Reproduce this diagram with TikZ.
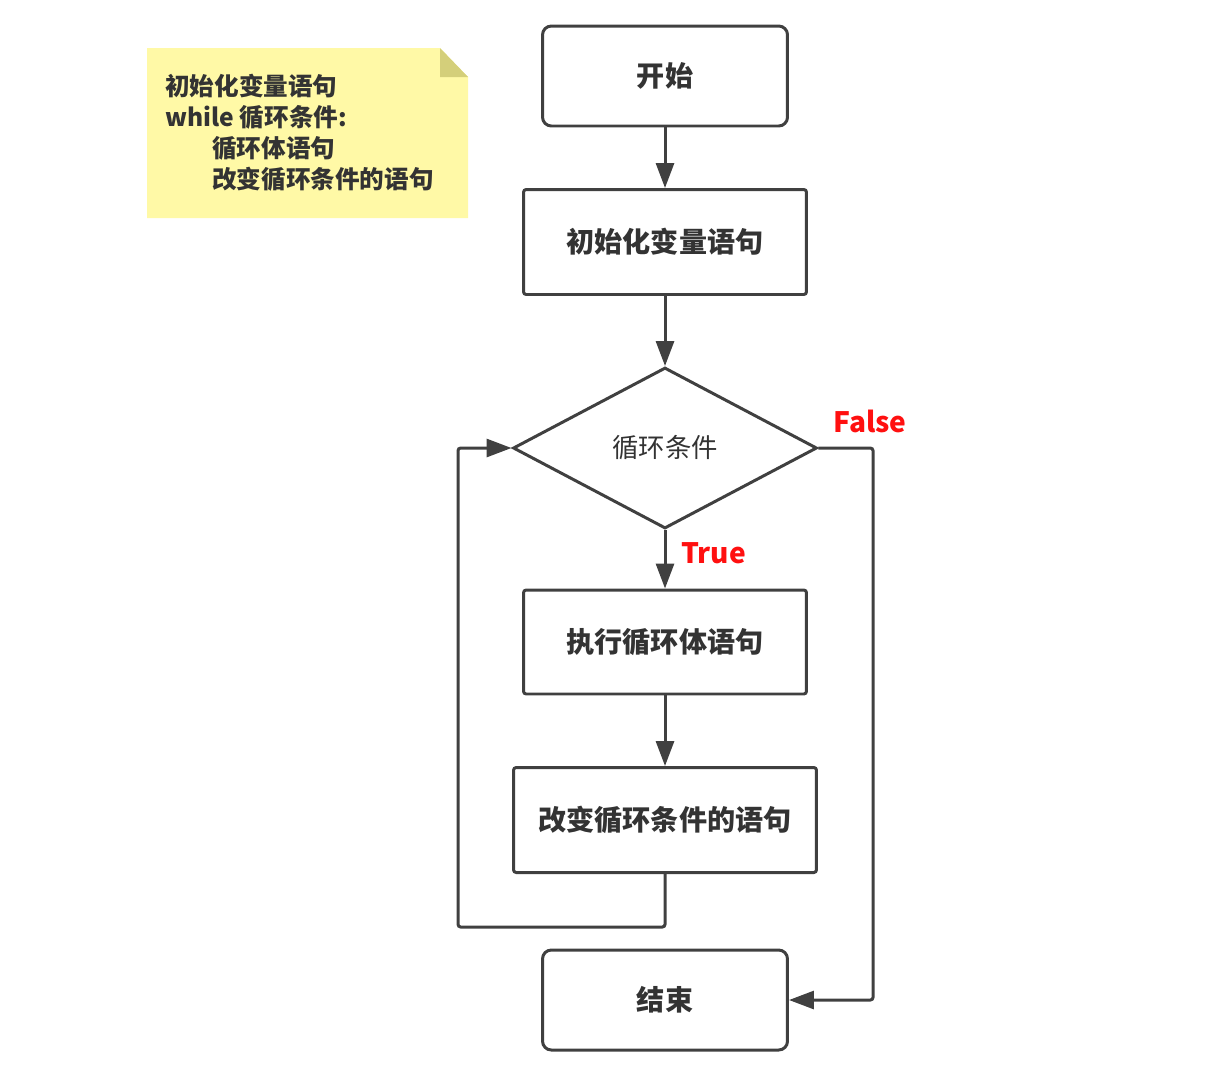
\documentclass[tikz,border=0pt]{standalone}
\usepackage{fontspec}
\setmainfont{Noto Sans CJK SC}
\usetikzlibrary{arrows.meta,shapes.geometric}

\definecolor{linegray}{HTML}{404040}
\definecolor{textgray}{HTML}{333333}
\definecolor{noteyellow}{HTML}{FFF9A6}
\definecolor{notefold}{HTML}{D4CF7A}
\definecolor{labelred}{HTML}{FF1010}

\tikzset{
	box/.style={draw=linegray, line width=1.7pt, rounded corners=1.5pt, inner sep=0pt,
		text=textgray, font=\fontsize{16}{18}\selectfont\bfseries},
	termbox/.style={box, rounded corners=5pt, minimum width=4.9cm, minimum height=2cm},
	cond/.style={draw=linegray, line width=1.7pt, diamond, inner sep=0pt,
		minimum width=6.08cm, minimum height=3.22cm, text=textgray,
		font=\fontsize{15}{17}\selectfont},
	arr/.style={draw=linegray, line width=1.7pt, rounded corners=1.5pt,
		-{Triangle[length=0.5cm, width=0.36cm]}},
	branch/.style={text=labelred, font=\fontsize{16}{18}\selectfont\bfseries}
}

\begin{document}
\begin{tikzpicture}[x=0.02cm, y=-0.02cm]
\useasboundingbox (0,0) rectangle (1222,1072);

% Nota
	\fill[noteyellow] (147,48) -- (440,48) -- (468,77) -- (468,218) -- (147,218) -- cycle;
	\fill[notefold] (440,48) -- (440,77) -- (468,77) -- cycle;
	\node[anchor=north west, align=left, inner sep=0pt, text=textgray,
		font=\fontsize{14}{17.6}\selectfont\bfseries] (note) at (165,74)
		{初始化变量语句\\while 循环条件:\\\hspace*{0.94cm}循环体语句\\\hspace*{0.94cm}改变循环条件的语句};

% Diagrama
	\node[termbox] (start) at (665,76) {开始};
	\node[box, minimum width=5.66cm, minimum height=2.1cm] (init) at (665,242) {初始化变量语句};
	\node[cond] (loop) at (665,448) {循环条件};
	\node[box, minimum width=5.66cm, minimum height=2.08cm] (body) at (665,642) {执行循环体语句};
	\node[box, minimum width=6.06cm, minimum height=2.1cm] (change) at (665,820) {改变循环条件的语句};
	\node[termbox] (stop) at (665,1000) {结束};

	\foreach \a/\b in {start/init, init/loop, loop/body, body/change}
		\draw[arr] (\a) -- (\b);

% Retorno y salida
	\coordinate (back) at (458,927);
	\coordinate (out) at (873,448);
	\draw[arr] (change.south) |- (back) |- (loop.west);
	\draw[arr] (loop.east) -- (out) |- (stop.east);

	\node[branch, anchor=west] (truelbl) at (675,553) {True};
	\node[branch] (falselbl) at (870,421) {False};
\end{tikzpicture}
\end{document}
